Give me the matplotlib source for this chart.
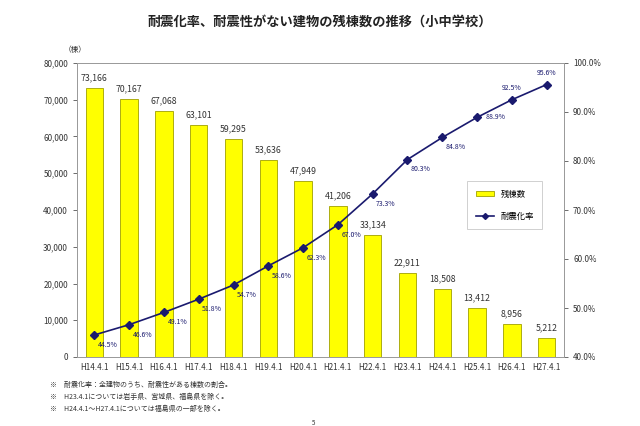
import matplotlib.pyplot as plt
from matplotlib.ticker import FuncFormatter
from matplotlib.lines import Line2D
from matplotlib.patches import Patch

plt.rcParams['font.family'] = ['Noto Sans CJK JP', 'DejaVu Sans']

labels = ['H14.4.1', 'H15.4.1', 'H16.4.1', 'H17.4.1', 'H18.4.1', 'H19.4.1', 'H20.4.1',
          'H21.4.1', 'H22.4.1', 'H23.4.1', 'H24.4.1', 'H25.4.1', 'H26.4.1', 'H27.4.1']
remaining = [73166, 70167, 67068, 63101, 59295, 53636, 47949,
             41206, 33134, 22911, 18508, 13412, 8956, 5212]
rate = [44.5, 46.6, 49.1, 51.8, 54.7, 58.6, 62.3,
        67.0, 73.3, 80.3, 84.8, 88.9, 92.5, 95.6]

navy = '#1a1a6e'
grey = '#333333'

fig = plt.figure(figsize=(6.4, 4.26), dpi=100)
ax = fig.add_axes([77/640, 1 - 357/426, (564 - 77)/640, (357 - 63)/426])
x = list(range(len(labels)))
ax.bar(x, remaining, width=0.5, color='#ffff00', edgecolor='#a0a000', linewidth=0.6, zorder=2)
for xi, v in zip(x, remaining):
    ax.text(xi, v + 1500, f'{v:,}', ha='center', va='bottom', fontsize=6.3, color=grey)
ax.set_ylim(0, 80000)
ax.set_xlim(-0.5, len(labels) - 0.5)
ax.set_yticks(range(0, 80001, 10000))
ax.yaxis.set_major_formatter(FuncFormatter(lambda v, p: f'{int(v):,}'))
ax.set_xticks(x)
ax.set_xticklabels(labels)
ax.tick_params(axis='both', labelsize=5.8, colors=grey, length=3, width=0.5)
ax.tick_params(axis='x', length=0, pad=4)
for s in ax.spines.values():
    s.set_color('#999999')
    s.set_linewidth(0.6)

ax2 = ax.twinx()
ax2.plot(x, rate, color=navy, lw=1.2, marker='D', markersize=3.8, zorder=5)
for xi, r in zip(x, rate):
    if r > 92:
        ax2.text(xi, r + 1.5, f'{r:.1f}%', ha='center', va='bottom', fontsize=5, color=navy)
    elif r > 88:
        ax2.text(xi + 0.25, r, f'{r:.1f}%', ha='left', va='center', fontsize=5, color=navy)
    else:
        ax2.text(xi + 0.1, r - 1.2, f'{r:.1f}%', ha='left', va='top', fontsize=5, color=navy)
ax2.set_ylim(40, 100)
ax2.set_yticks(range(40, 101, 10))
ax2.yaxis.set_major_formatter(FuncFormatter(lambda v, p: f'{v:.1f}%'))
ax2.tick_params(axis='y', labelsize=5.8, colors=grey, length=3, width=0.5)
for s in ax2.spines.values():
    s.set_color('#999999')
    s.set_linewidth(0.6)

handles = [Patch(facecolor='#ffff00', edgecolor='#a0a000', linewidth=0.6),
           Line2D([], [], color=navy, lw=1.2, marker='D', markersize=3)]
leg = ax2.legend(handles, ['残棟数', '耐震化率'], loc='upper left',
                 bbox_to_anchor=((463 - 77)/487, 1 - (177 - 63)/294), fontsize=6,
                 frameon=True, fancybox=False, edgecolor='#bbbbbb', handlelength=2.2,
                 labelspacing=1.6, borderpad=1.0, handleheight=0.5)
leg.get_frame().set_linewidth(0.6)

fig.text(0.5, 1 - 22/426, '耐震化率、耐震性がない建物の残棟数の推移（小中学校）',
         ha='center', va='center', fontsize=9.5, fontweight='bold', color='#222222')
fig.text(64/640, 1 - 50/426, '（棟）', ha='left', va='center', fontsize=5.5, color=grey)
notes = ['※　耐震化率：全建物のうち、耐震性がある棟数の割合。',
         '※　H23.4.1については岩手県、宮城県、福島県を除く。',
         '※　H24.4.1～H27.4.1については福島県の一部を除く。']
for i, n in enumerate(notes):
    fig.text(50/640, 1 - (385 + 12*i)/426, n, ha='left', va='center', fontsize=5, color=grey)
fig.text(314/640, 1 - 423/426, '5', ha='center', va='center', fontsize=4.5, color=grey)

fig.savefig('out.png', dpi=100)
